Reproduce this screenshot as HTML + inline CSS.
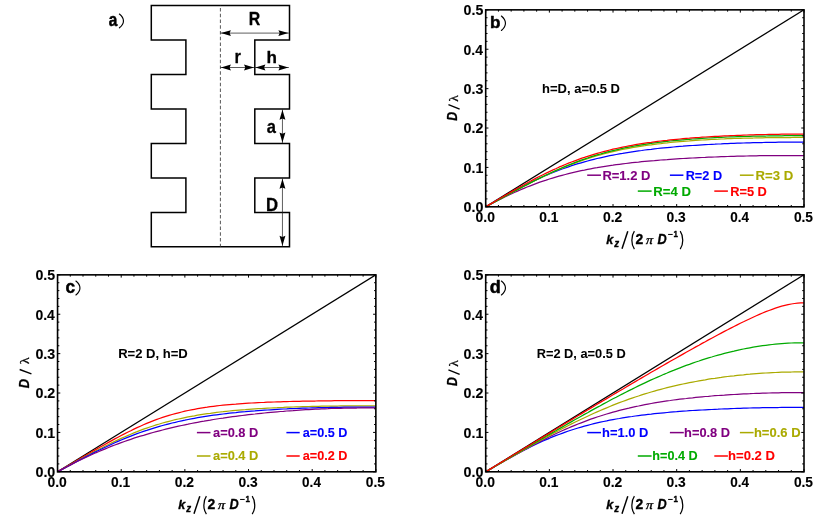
<!DOCTYPE html>
<html><head><meta charset="utf-8"><title>Figure</title>
<style>
html,body{margin:0;padding:0;background:#fff;}
body{width:830px;height:517px;overflow:hidden;font-family:"Liberation Sans",sans-serif;}
svg{display:block;will-change:transform;}
</style></head>
<body>
<svg width="830" height="517" viewBox="0 0 830 517">
<rect x="0" y="0" width="830" height="517" fill="#fff"/>
<path d="M151.3,5.4 H289.5 V39.9 H254.8 V74.4 H289.5 V108.9 H254.8 V143.4 H289.5 V177.9 H254.8 V212.4 H289.5 V246.85 H151.3 V212.4 H185.9 V177.9 H151.3 V143.4 H185.9 V108.9 H151.3 V74.4 H185.9 V39.9 H151.3 V5.4 Z" fill="none" stroke="#000" stroke-width="1.5" stroke-linejoin="miter"/>
<path d="M220.4,5.4 V246.85" stroke="#3a3a3a" stroke-width="0.85" stroke-dasharray="3.5 2.25" stroke-dashoffset="3.15" fill="none"/>
<path d="M220.4,33.1 L288.9,33.1" stroke="#1a1a1a" stroke-width="0.7" fill="none"/><path d="M288.40,33.10 L278.40,36.05 L279.70,33.10 L278.40,30.15 Z" fill="#000"/><path d="M220.90,33.10 L230.90,30.15 L229.60,33.10 L230.90,36.05 Z" fill="#000"/>
<path d="M220.4,67.5 L254.5,67.5" stroke="#1a1a1a" stroke-width="0.7" fill="none"/><path d="M254.00,67.50 L244.00,70.45 L245.30,67.50 L244.00,64.55 Z" fill="#000"/><path d="M220.90,67.50 L230.90,64.55 L229.60,67.50 L230.90,70.45 Z" fill="#000"/>
<path d="M254.9,67.5 L288.9,67.5" stroke="#1a1a1a" stroke-width="0.7" fill="none"/><path d="M288.40,67.50 L278.40,70.45 L279.70,67.50 L278.40,64.55 Z" fill="#000"/><path d="M255.40,67.50 L265.40,64.55 L264.10,67.50 L265.40,70.45 Z" fill="#000"/>
<path d="M282.45,109.3 L282.45,143.0" stroke="#1a1a1a" stroke-width="0.7" fill="none"/><path d="M282.45,142.50 L279.50,132.50 L282.45,133.80 L285.40,132.50 Z" fill="#000"/><path d="M282.45,109.80 L285.40,119.80 L282.45,118.50 L279.50,119.80 Z" fill="#000"/>
<path d="M282.45,178.3 L282.45,246.3" stroke="#1a1a1a" stroke-width="0.7" fill="none"/><path d="M282.45,245.80 L279.50,235.80 L282.45,237.10 L285.40,235.80 Z" fill="#000"/><path d="M282.45,178.80 L285.40,188.80 L282.45,187.50 L279.50,188.80 Z" fill="#000"/>
<text transform="translate(248.84,25.45) scale(0.872,1)" font-family='"Liberation Sans", sans-serif' font-size="18.24" font-weight="bold" font-style="normal" fill="#000" stroke="#000" stroke-width="0.3" stroke-linejoin="round">R</text>
<text transform="translate(234.62,63.35) scale(0.918,1)" font-family='"Liberation Sans", sans-serif' font-size="17.92" font-weight="bold" font-style="normal" fill="#000" stroke="#000" stroke-width="0.3" stroke-linejoin="round">r</text>
<text transform="translate(266.48,63.35) scale(1.018,1)" font-family='"Liberation Sans", sans-serif' font-size="16.77" font-weight="bold" font-style="normal" fill="#000" stroke="#000" stroke-width="0.3" stroke-linejoin="round">h</text>
<text transform="translate(266.72,132.63) scale(0.923,1)" font-family='"Liberation Sans", sans-serif' font-size="17.89" font-weight="bold" font-style="normal" fill="#000" stroke="#000" stroke-width="0.3" stroke-linejoin="round">a</text>
<text transform="translate(265.88,210.50) scale(0.916,1)" font-family='"Liberation Sans", sans-serif' font-size="18.24" font-weight="bold" font-style="normal" fill="#000" stroke="#000" stroke-width="0.3" stroke-linejoin="round">D</text>
<text transform="translate(108.65,25.53) scale(0.878,1)" font-family='"Liberation Sans", sans-serif' font-size="17.52" font-weight="bold" font-style="normal" fill="#000" stroke="#000" stroke-width="0.5" stroke-linejoin="round">a</text>
<path d="M119.40,14.00 C124.80,18.34 124.80,23.46 119.40,27.80" stroke="#000" stroke-width="1.15" fill="none" stroke-linecap="round"/>
<clipPath id="clipb"><rect x="485.7" y="8.85" width="318.3" height="198.95"/></clipPath>
<g clip-path="url(#clipb)" fill="none" stroke-width="1.25" stroke-linejoin="round">
<path d="M485.7,206.79999999999998 L804.0,9.85" stroke="#000"/>
<path d="M485.7,206.8 L488.9,205.1 L492.1,203.5 L495.2,201.8 L498.4,200.2 L501.6,198.6 L504.8,197.0 L508.0,195.5 L511.2,194.0 L514.3,192.5 L517.5,191.1 L520.7,189.7 L523.9,188.4 L527.1,187.0 L530.3,185.8 L533.4,184.6 L536.6,183.4 L539.8,182.2 L543.0,181.1 L546.2,180.1 L549.4,179.0 L552.5,178.1 L555.7,177.1 L558.9,176.2 L562.1,175.3 L565.3,174.5 L568.5,173.7 L571.6,172.9 L574.8,172.1 L578.0,171.4 L581.2,170.7 L584.4,170.1 L587.6,169.4 L590.7,168.8 L593.9,168.2 L597.1,167.7 L600.3,167.1 L603.5,166.6 L606.7,166.1 L609.8,165.6 L613.0,165.2 L616.2,164.7 L619.4,164.3 L622.6,163.9 L625.8,163.5 L628.9,163.1 L632.1,162.7 L635.3,162.4 L638.5,162.1 L641.7,161.7 L644.9,161.4 L648.0,161.1 L651.2,160.8 L654.4,160.6 L657.6,160.3 L660.8,160.0 L663.9,159.8 L667.1,159.6 L670.3,159.3 L673.5,159.1 L676.7,158.9 L679.9,158.7 L683.0,158.5 L686.2,158.3 L689.4,158.1 L692.6,158.0 L695.8,157.8 L699.0,157.6 L702.1,157.5 L705.3,157.4 L708.5,157.2 L711.7,157.1 L714.9,157.0 L718.1,156.8 L721.2,156.7 L724.4,156.6 L727.6,156.5 L730.8,156.4 L734.0,156.3 L737.2,156.2 L740.3,156.1 L743.5,156.1 L746.7,156.0 L749.9,155.9 L753.1,155.9 L756.3,155.8 L759.4,155.7 L762.6,155.7 L765.8,155.6 L769.0,155.6 L772.2,155.6 L775.4,155.5 L778.5,155.5 L781.7,155.5 L784.9,155.5 L788.1,155.5 L791.3,155.5 L794.5,155.5 L797.6,155.5 L800.8,155.5 L804.0,155.5" stroke="#800080"/>
<path d="M485.7,206.8 L488.9,205.0 L492.1,203.2 L495.2,201.4 L498.4,199.6 L501.6,197.8 L504.8,196.0 L508.0,194.2 L511.2,192.5 L514.3,190.8 L517.5,189.1 L520.7,187.4 L523.9,185.8 L527.1,184.2 L530.3,182.6 L533.4,181.1 L536.6,179.6 L539.8,178.1 L543.0,176.7 L546.2,175.3 L549.4,174.0 L552.5,172.7 L555.7,171.4 L558.9,170.2 L562.1,169.0 L565.3,167.9 L568.5,166.8 L571.6,165.7 L574.8,164.7 L578.0,163.7 L581.2,162.8 L584.4,161.9 L587.6,161.0 L590.7,160.1 L593.9,159.3 L597.1,158.5 L600.3,157.8 L603.5,157.1 L606.7,156.4 L609.8,155.7 L613.0,155.1 L616.2,154.5 L619.4,153.9 L622.6,153.4 L625.8,152.8 L628.9,152.3 L632.1,151.8 L635.3,151.3 L638.5,150.9 L641.7,150.5 L644.9,150.0 L648.0,149.6 L651.2,149.3 L654.4,148.9 L657.6,148.5 L660.8,148.2 L663.9,147.9 L667.1,147.6 L670.3,147.3 L673.5,147.0 L676.7,146.7 L679.9,146.4 L683.0,146.2 L686.2,145.9 L689.4,145.7 L692.6,145.5 L695.8,145.3 L699.0,145.1 L702.1,144.9 L705.3,144.7 L708.5,144.5 L711.7,144.3 L714.9,144.2 L718.1,144.0 L721.2,143.9 L724.4,143.7 L727.6,143.6 L730.8,143.4 L734.0,143.3 L737.2,143.2 L740.3,143.1 L743.5,143.0 L746.7,142.9 L749.9,142.8 L753.1,142.7 L756.3,142.6 L759.4,142.5 L762.6,142.5 L765.8,142.4 L769.0,142.4 L772.2,142.3 L775.4,142.3 L778.5,142.2 L781.7,142.2 L784.9,142.1 L788.1,142.1 L791.3,142.1 L794.5,142.1 L797.6,142.1 L800.8,142.1 L804.0,142.1" stroke="#0000ff"/>
<path d="M485.7,206.8 L488.9,205.1 L492.1,203.3 L495.2,201.6 L498.4,199.9 L501.6,198.1 L504.8,196.4 L508.0,194.7 L511.2,193.0 L514.3,191.3 L517.5,189.6 L520.7,187.9 L523.9,186.2 L527.1,184.6 L530.3,183.0 L533.4,181.4 L536.6,179.8 L539.8,178.2 L543.0,176.7 L546.2,175.2 L549.4,173.7 L552.5,172.2 L555.7,170.8 L558.9,169.4 L562.1,168.1 L565.3,166.8 L568.5,165.5 L571.6,164.3 L574.8,163.1 L578.0,161.9 L581.2,160.8 L584.4,159.7 L587.6,158.7 L590.7,157.6 L593.9,156.7 L597.1,155.7 L600.3,154.8 L603.5,154.0 L606.7,153.2 L609.8,152.4 L613.0,151.6 L616.2,150.9 L619.4,150.2 L622.6,149.5 L625.8,148.9 L628.9,148.3 L632.1,147.7 L635.3,147.2 L638.5,146.6 L641.7,146.1 L644.9,145.7 L648.0,145.2 L651.2,144.8 L654.4,144.3 L657.6,143.9 L660.8,143.6 L663.9,143.2 L667.1,142.9 L670.3,142.5 L673.5,142.2 L676.7,141.9 L679.9,141.6 L683.0,141.4 L686.2,141.1 L689.4,140.9 L692.6,140.6 L695.8,140.4 L699.0,140.2 L702.1,140.0 L705.3,139.8 L708.5,139.6 L711.7,139.5 L714.9,139.3 L718.1,139.2 L721.2,139.0 L724.4,138.9 L727.6,138.7 L730.8,138.6 L734.0,138.5 L737.2,138.4 L740.3,138.3 L743.5,138.2 L746.7,138.1 L749.9,138.0 L753.1,138.0 L756.3,137.9 L759.4,137.8 L762.6,137.8 L765.8,137.7 L769.0,137.6 L772.2,137.6 L775.4,137.6 L778.5,137.5 L781.7,137.5 L784.9,137.5 L788.1,137.5 L791.3,137.5 L794.5,137.4 L797.6,137.4 L800.8,137.4 L804.0,137.5" stroke="#aaaa00"/>
<path d="M485.7,206.8 L488.9,205.1 L492.1,203.3 L495.2,201.6 L498.4,199.9 L501.6,198.1 L504.8,196.4 L508.0,194.7 L511.2,193.0 L514.3,191.3 L517.5,189.6 L520.7,187.9 L523.9,186.2 L527.1,184.6 L530.3,182.9 L533.4,181.3 L536.6,179.7 L539.8,178.1 L543.0,176.5 L546.2,175.0 L549.4,173.5 L552.5,172.0 L555.7,170.6 L558.9,169.2 L562.1,167.8 L565.3,166.4 L568.5,165.1 L571.6,163.8 L574.8,162.6 L578.0,161.4 L581.2,160.2 L584.4,159.1 L587.6,158.0 L590.7,156.9 L593.9,155.9 L597.1,154.9 L600.3,154.0 L603.5,153.1 L606.7,152.2 L609.8,151.4 L613.0,150.6 L616.2,149.8 L619.4,149.1 L622.6,148.4 L625.8,147.7 L628.9,147.1 L632.1,146.5 L635.3,145.9 L638.5,145.4 L641.7,144.8 L644.9,144.3 L648.0,143.8 L651.2,143.4 L654.4,142.9 L657.6,142.5 L660.8,142.1 L663.9,141.7 L667.1,141.4 L670.3,141.0 L673.5,140.7 L676.7,140.4 L679.9,140.1 L683.0,139.8 L686.2,139.5 L689.4,139.3 L692.6,139.0 L695.8,138.8 L699.0,138.6 L702.1,138.4 L705.3,138.2 L708.5,138.0 L711.7,137.8 L714.9,137.6 L718.1,137.5 L721.2,137.3 L724.4,137.2 L727.6,137.0 L730.8,136.9 L734.0,136.8 L737.2,136.7 L740.3,136.6 L743.5,136.5 L746.7,136.4 L749.9,136.3 L753.1,136.2 L756.3,136.1 L759.4,136.1 L762.6,136.0 L765.8,136.0 L769.0,135.9 L772.2,135.9 L775.4,135.8 L778.5,135.8 L781.7,135.8 L784.9,135.7 L788.1,135.7 L791.3,135.7 L794.5,135.7 L797.6,135.7 L800.8,135.7 L804.0,135.7" stroke="#00aa00"/>
<path d="M485.7,206.8 L488.9,204.9 L492.1,203.1 L495.2,201.2 L498.4,199.3 L501.6,197.5 L504.8,195.6 L508.0,193.8 L511.2,191.9 L514.3,190.1 L517.5,188.3 L520.7,186.5 L523.9,184.8 L527.1,183.0 L530.3,181.3 L533.4,179.6 L536.6,177.9 L539.8,176.3 L543.0,174.7 L546.2,173.1 L549.4,171.6 L552.5,170.1 L555.7,168.7 L558.9,167.2 L562.1,165.9 L565.3,164.5 L568.5,163.2 L571.6,162.0 L574.8,160.8 L578.0,159.6 L581.2,158.4 L584.4,157.4 L587.6,156.3 L590.7,155.3 L593.9,154.3 L597.1,153.4 L600.3,152.5 L603.5,151.6 L606.7,150.8 L609.8,150.0 L613.0,149.2 L616.2,148.5 L619.4,147.8 L622.6,147.1 L625.8,146.5 L628.9,145.9 L632.1,145.3 L635.3,144.7 L638.5,144.2 L641.7,143.7 L644.9,143.2 L648.0,142.7 L651.2,142.3 L654.4,141.8 L657.6,141.4 L660.8,141.0 L663.9,140.6 L667.1,140.3 L670.3,139.9 L673.5,139.6 L676.7,139.3 L679.9,139.0 L683.0,138.7 L686.2,138.4 L689.4,138.2 L692.6,137.9 L695.8,137.7 L699.0,137.5 L702.1,137.2 L705.3,137.0 L708.5,136.8 L711.7,136.6 L714.9,136.4 L718.1,136.3 L721.2,136.1 L724.4,135.9 L727.6,135.8 L730.8,135.6 L734.0,135.5 L737.2,135.4 L740.3,135.3 L743.5,135.1 L746.7,135.0 L749.9,134.9 L753.1,134.8 L756.3,134.7 L759.4,134.7 L762.6,134.6 L765.8,134.5 L769.0,134.4 L772.2,134.4 L775.4,134.3 L778.5,134.3 L781.7,134.2 L784.9,134.2 L788.1,134.2 L791.3,134.1 L794.5,134.1 L797.6,134.1 L800.8,134.1 L804.0,134.1" stroke="#ff0000"/>
</g>
<path d="M485.70,206.79999999999998 v-2.75 M485.70,9.85 v2.75 M485.7,206.80 h2.75 M804.0,206.80 h-2.75 M498.43,206.79999999999998 v-1.8 M498.43,9.85 v1.8 M485.7,198.92 h1.8 M804.0,198.92 h-1.8 M511.16,206.79999999999998 v-1.8 M511.16,9.85 v1.8 M485.7,191.04 h1.8 M804.0,191.04 h-1.8 M523.90,206.79999999999998 v-1.8 M523.90,9.85 v1.8 M485.7,183.17 h1.8 M804.0,183.17 h-1.8 M536.63,206.79999999999998 v-1.8 M536.63,9.85 v1.8 M485.7,175.29 h1.8 M804.0,175.29 h-1.8 M549.36,206.79999999999998 v-2.75 M549.36,9.85 v2.75 M485.7,167.41 h2.75 M804.0,167.41 h-2.75 M562.09,206.79999999999998 v-1.8 M562.09,9.85 v1.8 M485.7,159.53 h1.8 M804.0,159.53 h-1.8 M574.82,206.79999999999998 v-1.8 M574.82,9.85 v1.8 M485.7,151.65 h1.8 M804.0,151.65 h-1.8 M587.56,206.79999999999998 v-1.8 M587.56,9.85 v1.8 M485.7,143.78 h1.8 M804.0,143.78 h-1.8 M600.29,206.79999999999998 v-1.8 M600.29,9.85 v1.8 M485.7,135.90 h1.8 M804.0,135.90 h-1.8 M613.02,206.79999999999998 v-2.75 M613.02,9.85 v2.75 M485.7,128.02 h2.75 M804.0,128.02 h-2.75 M625.75,206.79999999999998 v-1.8 M625.75,9.85 v1.8 M485.7,120.14 h1.8 M804.0,120.14 h-1.8 M638.48,206.79999999999998 v-1.8 M638.48,9.85 v1.8 M485.7,112.26 h1.8 M804.0,112.26 h-1.8 M651.22,206.79999999999998 v-1.8 M651.22,9.85 v1.8 M485.7,104.39 h1.8 M804.0,104.39 h-1.8 M663.95,206.79999999999998 v-1.8 M663.95,9.85 v1.8 M485.7,96.51 h1.8 M804.0,96.51 h-1.8 M676.68,206.79999999999998 v-2.75 M676.68,9.85 v2.75 M485.7,88.63 h2.75 M804.0,88.63 h-2.75 M689.41,206.79999999999998 v-1.8 M689.41,9.85 v1.8 M485.7,80.75 h1.8 M804.0,80.75 h-1.8 M702.14,206.79999999999998 v-1.8 M702.14,9.85 v1.8 M485.7,72.87 h1.8 M804.0,72.87 h-1.8 M714.88,206.79999999999998 v-1.8 M714.88,9.85 v1.8 M485.7,65.00 h1.8 M804.0,65.00 h-1.8 M727.61,206.79999999999998 v-1.8 M727.61,9.85 v1.8 M485.7,57.12 h1.8 M804.0,57.12 h-1.8 M740.34,206.79999999999998 v-2.75 M740.34,9.85 v2.75 M485.7,49.24 h2.75 M804.0,49.24 h-2.75 M753.07,206.79999999999998 v-1.8 M753.07,9.85 v1.8 M485.7,41.36 h1.8 M804.0,41.36 h-1.8 M765.80,206.79999999999998 v-1.8 M765.80,9.85 v1.8 M485.7,33.48 h1.8 M804.0,33.48 h-1.8 M778.54,206.79999999999998 v-1.8 M778.54,9.85 v1.8 M485.7,25.61 h1.8 M804.0,25.61 h-1.8 M791.27,206.79999999999998 v-1.8 M791.27,9.85 v1.8 M485.7,17.73 h1.8 M804.0,17.73 h-1.8 M804.00,206.79999999999998 v-2.75 M804.00,9.85 v2.75 M485.7,9.85 h2.75 M804.0,9.85 h-2.75" stroke="#000" stroke-width="1" fill="none"/>
<rect x="485.7" y="9.85" width="318.3" height="196.95" fill="none" stroke="#000" stroke-width="1.6"/>
<text transform="translate(475.60,222.41) scale(0.979,1)" font-family='"Liberation Sans", sans-serif' font-size="14.19" font-weight="bold" font-style="normal" fill="#000" stroke="#000" stroke-width="0.12" stroke-linejoin="round">0.0</text>
<text transform="translate(463.58,212.11) scale(1.009,1)" font-family='"Liberation Sans", sans-serif' font-size="14.19" font-weight="bold" font-style="normal" fill="#000" stroke="#000" stroke-width="0.12" stroke-linejoin="round">0.0</text>
<text transform="translate(539.27,222.41) scale(0.969,1)" font-family='"Liberation Sans", sans-serif' font-size="14.19" font-weight="bold" font-style="normal" fill="#000" stroke="#000" stroke-width="0.12" stroke-linejoin="round">0.1</text>
<text transform="translate(463.59,172.72) scale(0.999,1)" font-family='"Liberation Sans", sans-serif' font-size="14.19" font-weight="bold" font-style="normal" fill="#000" stroke="#000" stroke-width="0.12" stroke-linejoin="round">0.1</text>
<text transform="translate(602.92,222.41) scale(0.978,1)" font-family='"Liberation Sans", sans-serif' font-size="14.19" font-weight="bold" font-style="normal" fill="#000" stroke="#000" stroke-width="0.12" stroke-linejoin="round">0.2</text>
<text transform="translate(463.58,133.33) scale(1.008,1)" font-family='"Liberation Sans", sans-serif' font-size="14.19" font-weight="bold" font-style="normal" fill="#000" stroke="#000" stroke-width="0.12" stroke-linejoin="round">0.2</text>
<text transform="translate(666.58,222.39) scale(0.977,1)" font-family='"Liberation Sans", sans-serif' font-size="14.17" font-weight="bold" font-style="normal" fill="#000" stroke="#000" stroke-width="0.12" stroke-linejoin="round">0.3</text>
<text transform="translate(463.59,93.92) scale(1.007,1)" font-family='"Liberation Sans", sans-serif' font-size="14.17" font-weight="bold" font-style="normal" fill="#000" stroke="#000" stroke-width="0.12" stroke-linejoin="round">0.3</text>
<text transform="translate(730.25,222.41) scale(0.953,1)" font-family='"Liberation Sans", sans-serif' font-size="14.19" font-weight="bold" font-style="normal" fill="#000" stroke="#000" stroke-width="0.12" stroke-linejoin="round">0.4</text>
<text transform="translate(463.60,54.55) scale(0.982,1)" font-family='"Liberation Sans", sans-serif' font-size="14.19" font-weight="bold" font-style="normal" fill="#000" stroke="#000" stroke-width="0.12" stroke-linejoin="round">0.4</text>
<text transform="translate(793.91,222.41) scale(0.969,1)" font-family='"Liberation Sans", sans-serif' font-size="14.19" font-weight="bold" font-style="normal" fill="#000" stroke="#000" stroke-width="0.12" stroke-linejoin="round">0.5</text>
<text transform="translate(463.59,15.16) scale(0.999,1)" font-family='"Liberation Sans", sans-serif' font-size="14.19" font-weight="bold" font-style="normal" fill="#000" stroke="#000" stroke-width="0.12" stroke-linejoin="round">0.5</text>
<text transform="translate(489.97,27.73) scale(1.003,1)" font-family='"Liberation Sans", sans-serif' font-size="17.02" font-weight="bold" font-style="normal" fill="#000" stroke="#000" stroke-width="0.5" stroke-linejoin="round">b</text>
<path d="M501.40,16.00 C506.80,20.57 506.80,25.93 501.40,30.50" stroke="#000" stroke-width="1.15" fill="none" stroke-linecap="round"/>
<text transform="translate(542.09,93.00) scale(1.047,1)" font-family='"Liberation Sans", sans-serif' font-size="12.40" font-weight="bold" font-style="normal" fill="#000" stroke="#000" stroke-width="0.05" stroke-linejoin="round">h=D, a=0.5 D</text>
<path d="M587.2,175.2 H601.0" stroke="#800080" stroke-width="1.5"/>
<text transform="translate(602.38,179.80) scale(0.949,1)" font-family='"Liberation Sans", sans-serif' font-size="13.70" font-weight="bold" font-style="normal" fill="#800080" stroke="#800080" stroke-width="0.1" stroke-linejoin="round">R=1.2 D</text>
<path d="M669.9,175.2 H683.4" stroke="#0000ff" stroke-width="1.5"/>
<text transform="translate(685.65,179.80) scale(0.930,1)" font-family='"Liberation Sans", sans-serif' font-size="13.70" font-weight="bold" font-style="normal" fill="#0000ff" stroke="#0000ff" stroke-width="0.1" stroke-linejoin="round">R=2 D</text>
<path d="M739.9,175.2 H753.6" stroke="#aaaa00" stroke-width="1.5"/>
<text transform="translate(755.52,179.80) scale(0.962,1)" font-family='"Liberation Sans", sans-serif' font-size="13.70" font-weight="bold" font-style="normal" fill="#aaaa00" stroke="#aaaa00" stroke-width="0.1" stroke-linejoin="round">R=3 D</text>
<path d="M637.8,191.1 H651.6" stroke="#00aa00" stroke-width="1.5"/>
<text transform="translate(653.32,195.70) scale(0.960,1)" font-family='"Liberation Sans", sans-serif' font-size="13.70" font-weight="bold" font-style="normal" fill="#00aa00" stroke="#00aa00" stroke-width="0.1" stroke-linejoin="round">R=4 D</text>
<path d="M714.3,191.1 H727.9" stroke="#ff0000" stroke-width="1.5"/>
<text transform="translate(730.14,195.70) scale(0.938,1)" font-family='"Liberation Sans", sans-serif' font-size="13.70" font-weight="bold" font-style="normal" fill="#ff0000" stroke="#ff0000" stroke-width="0.1" stroke-linejoin="round">R=5 D</text>
<g transform="translate(0.00,0.00)">
<text transform="translate(606.23,243.60) scale(0.938,1)" font-family='"Liberation Sans", sans-serif' font-size="13.39" font-weight="bold" font-style="italic" fill="#000" stroke="#000" stroke-width="0.35" stroke-linejoin="round">k</text>
<text transform="translate(614.18,246.50) scale(0.906,1)" font-family='"Liberation Sans", sans-serif' font-size="10.79" font-weight="bold" font-style="italic" fill="#000" stroke="#000" stroke-width="0.35" stroke-linejoin="round">z</text>
<text transform="translate(635.62,243.60) scale(0.972,1)" font-family='"Liberation Sans", sans-serif' font-size="14.32" font-weight="bold" font-style="normal" fill="#000" stroke="#000" stroke-width="0.35" stroke-linejoin="round">2</text>
<text transform="translate(657.48,243.75) scale(0.871,1)" font-family='"Liberation Sans", sans-serif' font-size="14.61" font-weight="bold" font-style="italic" fill="#000" stroke="#000" stroke-width="0.35" stroke-linejoin="round">D</text>
<text transform="translate(673.50,236.90) scale(0.882,1)" font-family='"Liberation Sans", sans-serif' font-size="9.01" font-weight="bold" font-style="normal" fill="#000" stroke="#000" stroke-width="0.35" stroke-linejoin="round">1</text>
<g transform="translate(645.3,243.7) skewX(-14) scale(1.08,1)"><text x="0" y="0" font-family='"Liberation Serif", serif' font-size="12.8" fill="#000" stroke="#000" stroke-width="0.4">π</text></g>
<path d="M622.0,248.7 L627.8,231.2" stroke="#000" stroke-width="1.45" fill="none"/>
<path d="M634.4,231.1 C631.0,236.0 631.0,244.3 634.4,249.1" stroke="#000" stroke-width="1.25" fill="none"/>
<path d="M680.2,231.1 C683.6,236.0 683.6,244.3 680.2,249.1" stroke="#000" stroke-width="1.25" fill="none"/>
<path d="M668.1,234.45 H672.7" stroke="#000" stroke-width="1.0" fill="none"/>
</g>
<g transform="rotate(-90)">
<text transform="translate(-120.68,457.20) scale(0.872,1)" font-family='"Liberation Sans", sans-serif' font-size="14.10" font-weight="bold" font-style="italic" fill="#000" stroke="#000" stroke-width="0.3" stroke-linejoin="round">D</text>
<text transform="translate(-101.66,457.60) scale(1.025,1)" font-family='"Liberation Serif", serif' font-size="13.35" font-weight="normal" font-style="normal" fill="#000" stroke="#000" stroke-width="0.25" stroke-linejoin="round">λ</text>
</g>
<path d="M459.65,109.20 L448.45,104.60" stroke="#000" stroke-width="1.35" fill="none"/>
<clipPath id="clipc"><rect x="57.55" y="273.85" width="318.3" height="198.95"/></clipPath>
<g clip-path="url(#clipc)" fill="none" stroke-width="1.25" stroke-linejoin="round">
<path d="M57.55,471.8 L375.85,274.85" stroke="#000"/>
<path d="M57.5,471.8 L60.7,469.9 L63.9,468.1 L67.1,466.2 L70.3,464.3 L73.5,462.5 L76.6,460.6 L79.8,458.8 L83.0,456.9 L86.2,455.1 L89.4,453.2 L92.6,451.4 L95.7,449.6 L98.9,447.8 L102.1,446.0 L105.3,444.2 L108.5,442.4 L111.7,440.6 L114.8,438.9 L118.0,437.2 L121.2,435.5 L124.4,433.9 L127.6,432.2 L130.8,430.7 L133.9,429.1 L137.1,427.6 L140.3,426.2 L143.5,424.8 L146.7,423.4 L149.9,422.1 L153.0,420.9 L156.2,419.7 L159.4,418.5 L162.6,417.4 L165.8,416.4 L169.0,415.4 L172.1,414.5 L175.3,413.6 L178.5,412.8 L181.7,412.0 L184.9,411.2 L188.1,410.5 L191.2,409.9 L194.4,409.3 L197.6,408.7 L200.8,408.1 L204.0,407.6 L207.2,407.2 L210.3,406.7 L213.5,406.3 L216.7,405.9 L219.9,405.5 L223.1,405.2 L226.2,404.9 L229.4,404.6 L232.6,404.3 L235.8,404.1 L239.0,403.8 L242.2,403.6 L245.3,403.4 L248.5,403.2 L251.7,403.0 L254.9,402.8 L258.1,402.6 L261.3,402.5 L264.4,402.4 L267.6,402.2 L270.8,402.1 L274.0,402.0 L277.2,401.9 L280.4,401.8 L283.5,401.7 L286.7,401.6 L289.9,401.5 L293.1,401.4 L296.3,401.3 L299.5,401.3 L302.6,401.2 L305.8,401.1 L309.0,401.1 L312.2,401.0 L315.4,401.0 L318.6,400.9 L321.7,400.9 L324.9,400.8 L328.1,400.8 L331.3,400.8 L334.5,400.7 L337.7,400.7 L340.8,400.7 L344.0,400.6 L347.2,400.6 L350.4,400.6 L353.6,400.6 L356.8,400.6 L359.9,400.6 L363.1,400.6 L366.3,400.5 L369.5,400.5 L372.7,400.5 L375.9,400.5" stroke="#ff0000"/>
<path d="M57.5,471.8 L60.7,470.0 L63.9,468.3 L67.1,466.5 L70.3,464.7 L73.5,463.0 L76.6,461.2 L79.8,459.5 L83.0,457.8 L86.2,456.0 L89.4,454.3 L92.6,452.6 L95.7,451.0 L98.9,449.3 L102.1,447.7 L105.3,446.0 L108.5,444.5 L111.7,442.9 L114.8,441.4 L118.0,439.9 L121.2,438.4 L124.4,437.0 L127.6,435.6 L130.8,434.2 L133.9,432.9 L137.1,431.7 L140.3,430.4 L143.5,429.2 L146.7,428.1 L149.9,427.0 L153.0,426.0 L156.2,424.9 L159.4,424.0 L162.6,423.0 L165.8,422.1 L169.0,421.3 L172.1,420.5 L175.3,419.7 L178.5,419.0 L181.7,418.3 L184.9,417.6 L188.1,416.9 L191.2,416.3 L194.4,415.8 L197.6,415.2 L200.8,414.7 L204.0,414.2 L207.2,413.7 L210.3,413.3 L213.5,412.8 L216.7,412.4 L219.9,412.0 L223.1,411.7 L226.2,411.3 L229.4,411.0 L232.6,410.7 L235.8,410.4 L239.0,410.1 L242.2,409.8 L245.3,409.6 L248.5,409.3 L251.7,409.1 L254.9,408.9 L258.1,408.7 L261.3,408.5 L264.4,408.3 L267.6,408.1 L270.8,408.0 L274.0,407.8 L277.2,407.7 L280.4,407.5 L283.5,407.4 L286.7,407.2 L289.9,407.1 L293.1,407.0 L296.3,406.9 L299.5,406.8 L302.6,406.7 L305.8,406.6 L309.0,406.5 L312.2,406.4 L315.4,406.4 L318.6,406.3 L321.7,406.2 L324.9,406.2 L328.1,406.1 L331.3,406.1 L334.5,406.0 L337.7,406.0 L340.8,405.9 L344.0,405.9 L347.2,405.9 L350.4,405.8 L353.6,405.8 L356.8,405.8 L359.9,405.8 L363.1,405.8 L366.3,405.8 L369.5,405.8 L372.7,405.8 L375.9,405.8" stroke="#aaaa00"/>
<path d="M57.5,471.8 L60.7,470.1 L63.9,468.4 L67.1,466.7 L70.3,465.0 L73.5,463.3 L76.6,461.6 L79.8,459.9 L83.0,458.3 L86.2,456.6 L89.4,455.0 L92.6,453.4 L95.7,451.8 L98.9,450.2 L102.1,448.7 L105.3,447.2 L108.5,445.7 L111.7,444.2 L114.8,442.8 L118.0,441.4 L121.2,440.0 L124.4,438.7 L127.6,437.4 L130.8,436.1 L133.9,434.9 L137.1,433.7 L140.3,432.5 L143.5,431.4 L146.7,430.4 L149.9,429.3 L153.0,428.3 L156.2,427.3 L159.4,426.4 L162.6,425.5 L165.8,424.7 L169.0,423.8 L172.1,423.0 L175.3,422.3 L178.5,421.5 L181.7,420.8 L184.9,420.2 L188.1,419.5 L191.2,418.9 L194.4,418.3 L197.6,417.7 L200.8,417.2 L204.0,416.7 L207.2,416.2 L210.3,415.7 L213.5,415.2 L216.7,414.8 L219.9,414.4 L223.1,414.0 L226.2,413.6 L229.4,413.2 L232.6,412.9 L235.8,412.6 L239.0,412.2 L242.2,411.9 L245.3,411.7 L248.5,411.4 L251.7,411.1 L254.9,410.9 L258.1,410.6 L261.3,410.4 L264.4,410.2 L267.6,410.0 L270.8,409.8 L274.0,409.6 L277.2,409.4 L280.4,409.2 L283.5,409.0 L286.7,408.9 L289.9,408.7 L293.1,408.6 L296.3,408.5 L299.5,408.3 L302.6,408.2 L305.8,408.1 L309.0,408.0 L312.2,407.9 L315.4,407.8 L318.6,407.7 L321.7,407.6 L324.9,407.6 L328.1,407.5 L331.3,407.4 L334.5,407.4 L337.7,407.3 L340.8,407.3 L344.0,407.2 L347.2,407.2 L350.4,407.1 L353.6,407.1 L356.8,407.1 L359.9,407.1 L363.1,407.1 L366.3,407.1 L369.5,407.1 L372.7,407.1 L375.9,407.1" stroke="#0000ff"/>
<path d="M57.5,471.8 L60.7,470.1 L63.9,468.4 L67.1,466.7 L70.3,465.1 L73.5,463.4 L76.6,461.8 L79.8,460.3 L83.0,458.7 L86.2,457.2 L89.4,455.7 L92.6,454.3 L95.7,452.8 L98.9,451.5 L102.1,450.1 L105.3,448.8 L108.5,447.5 L111.7,446.2 L114.8,445.0 L118.0,443.8 L121.2,442.6 L124.4,441.5 L127.6,440.4 L130.8,439.3 L133.9,438.2 L137.1,437.2 L140.3,436.2 L143.5,435.3 L146.7,434.3 L149.9,433.4 L153.0,432.5 L156.2,431.6 L159.4,430.8 L162.6,430.0 L165.8,429.2 L169.0,428.4 L172.1,427.6 L175.3,426.9 L178.5,426.2 L181.7,425.5 L184.9,424.8 L188.1,424.2 L191.2,423.5 L194.4,422.9 L197.6,422.3 L200.8,421.7 L204.0,421.2 L207.2,420.6 L210.3,420.1 L213.5,419.5 L216.7,419.0 L219.9,418.5 L223.1,418.1 L226.2,417.6 L229.4,417.1 L232.6,416.7 L235.8,416.3 L239.0,415.9 L242.2,415.5 L245.3,415.1 L248.5,414.7 L251.7,414.3 L254.9,414.0 L258.1,413.6 L261.3,413.3 L264.4,413.0 L267.6,412.7 L270.8,412.4 L274.0,412.1 L277.2,411.8 L280.4,411.5 L283.5,411.3 L286.7,411.0 L289.9,410.8 L293.1,410.6 L296.3,410.3 L299.5,410.1 L302.6,409.9 L305.8,409.7 L309.0,409.6 L312.2,409.4 L315.4,409.2 L318.6,409.1 L321.7,408.9 L324.9,408.8 L328.1,408.7 L331.3,408.5 L334.5,408.4 L337.7,408.3 L340.8,408.3 L344.0,408.2 L347.2,408.1 L350.4,408.0 L353.6,408.0 L356.8,408.0 L359.9,407.9 L363.1,407.9 L366.3,407.9 L369.5,407.9 L372.7,407.9 L375.9,407.9" stroke="#800080"/>
</g>
<path d="M57.55,471.8 v-2.75 M57.55,274.85 v2.75 M57.55,471.80 h2.75 M375.85,471.80 h-2.75 M70.28,471.8 v-1.8 M70.28,274.85 v1.8 M57.55,463.92 h1.8 M375.85,463.92 h-1.8 M83.01,471.8 v-1.8 M83.01,274.85 v1.8 M57.55,456.04 h1.8 M375.85,456.04 h-1.8 M95.75,471.8 v-1.8 M95.75,274.85 v1.8 M57.55,448.17 h1.8 M375.85,448.17 h-1.8 M108.48,471.8 v-1.8 M108.48,274.85 v1.8 M57.55,440.29 h1.8 M375.85,440.29 h-1.8 M121.21,471.8 v-2.75 M121.21,274.85 v2.75 M57.55,432.41 h2.75 M375.85,432.41 h-2.75 M133.94,471.8 v-1.8 M133.94,274.85 v1.8 M57.55,424.53 h1.8 M375.85,424.53 h-1.8 M146.67,471.8 v-1.8 M146.67,274.85 v1.8 M57.55,416.65 h1.8 M375.85,416.65 h-1.8 M159.41,471.8 v-1.8 M159.41,274.85 v1.8 M57.55,408.78 h1.8 M375.85,408.78 h-1.8 M172.14,471.8 v-1.8 M172.14,274.85 v1.8 M57.55,400.90 h1.8 M375.85,400.90 h-1.8 M184.87,471.8 v-2.75 M184.87,274.85 v2.75 M57.55,393.02 h2.75 M375.85,393.02 h-2.75 M197.60,471.8 v-1.8 M197.60,274.85 v1.8 M57.55,385.14 h1.8 M375.85,385.14 h-1.8 M210.33,471.8 v-1.8 M210.33,274.85 v1.8 M57.55,377.26 h1.8 M375.85,377.26 h-1.8 M223.07,471.8 v-1.8 M223.07,274.85 v1.8 M57.55,369.39 h1.8 M375.85,369.39 h-1.8 M235.80,471.8 v-1.8 M235.80,274.85 v1.8 M57.55,361.51 h1.8 M375.85,361.51 h-1.8 M248.53,471.8 v-2.75 M248.53,274.85 v2.75 M57.55,353.63 h2.75 M375.85,353.63 h-2.75 M261.26,471.8 v-1.8 M261.26,274.85 v1.8 M57.55,345.75 h1.8 M375.85,345.75 h-1.8 M273.99,471.8 v-1.8 M273.99,274.85 v1.8 M57.55,337.87 h1.8 M375.85,337.87 h-1.8 M286.73,471.8 v-1.8 M286.73,274.85 v1.8 M57.55,330.00 h1.8 M375.85,330.00 h-1.8 M299.46,471.8 v-1.8 M299.46,274.85 v1.8 M57.55,322.12 h1.8 M375.85,322.12 h-1.8 M312.19,471.8 v-2.75 M312.19,274.85 v2.75 M57.55,314.24 h2.75 M375.85,314.24 h-2.75 M324.92,471.8 v-1.8 M324.92,274.85 v1.8 M57.55,306.36 h1.8 M375.85,306.36 h-1.8 M337.65,471.8 v-1.8 M337.65,274.85 v1.8 M57.55,298.48 h1.8 M375.85,298.48 h-1.8 M350.39,471.8 v-1.8 M350.39,274.85 v1.8 M57.55,290.61 h1.8 M375.85,290.61 h-1.8 M363.12,471.8 v-1.8 M363.12,274.85 v1.8 M57.55,282.73 h1.8 M375.85,282.73 h-1.8 M375.85,471.8 v-2.75 M375.85,274.85 v2.75 M57.55,274.85 h2.75 M375.85,274.85 h-2.75" stroke="#000" stroke-width="1" fill="none"/>
<rect x="57.55" y="274.85" width="318.3" height="196.95" fill="none" stroke="#000" stroke-width="1.6"/>
<text transform="translate(47.45,487.41) scale(0.979,1)" font-family='"Liberation Sans", sans-serif' font-size="14.19" font-weight="bold" font-style="normal" fill="#000" stroke="#000" stroke-width="0.12" stroke-linejoin="round">0.0</text>
<text transform="translate(35.43,477.11) scale(1.009,1)" font-family='"Liberation Sans", sans-serif' font-size="14.19" font-weight="bold" font-style="normal" fill="#000" stroke="#000" stroke-width="0.12" stroke-linejoin="round">0.0</text>
<text transform="translate(111.12,487.41) scale(0.969,1)" font-family='"Liberation Sans", sans-serif' font-size="14.19" font-weight="bold" font-style="normal" fill="#000" stroke="#000" stroke-width="0.12" stroke-linejoin="round">0.1</text>
<text transform="translate(35.44,437.72) scale(0.999,1)" font-family='"Liberation Sans", sans-serif' font-size="14.19" font-weight="bold" font-style="normal" fill="#000" stroke="#000" stroke-width="0.12" stroke-linejoin="round">0.1</text>
<text transform="translate(174.77,487.41) scale(0.978,1)" font-family='"Liberation Sans", sans-serif' font-size="14.19" font-weight="bold" font-style="normal" fill="#000" stroke="#000" stroke-width="0.12" stroke-linejoin="round">0.2</text>
<text transform="translate(35.43,398.33) scale(1.008,1)" font-family='"Liberation Sans", sans-serif' font-size="14.19" font-weight="bold" font-style="normal" fill="#000" stroke="#000" stroke-width="0.12" stroke-linejoin="round">0.2</text>
<text transform="translate(238.43,487.39) scale(0.977,1)" font-family='"Liberation Sans", sans-serif' font-size="14.17" font-weight="bold" font-style="normal" fill="#000" stroke="#000" stroke-width="0.12" stroke-linejoin="round">0.3</text>
<text transform="translate(35.44,358.92) scale(1.007,1)" font-family='"Liberation Sans", sans-serif' font-size="14.17" font-weight="bold" font-style="normal" fill="#000" stroke="#000" stroke-width="0.12" stroke-linejoin="round">0.3</text>
<text transform="translate(302.10,487.41) scale(0.953,1)" font-family='"Liberation Sans", sans-serif' font-size="14.19" font-weight="bold" font-style="normal" fill="#000" stroke="#000" stroke-width="0.12" stroke-linejoin="round">0.4</text>
<text transform="translate(35.45,319.55) scale(0.982,1)" font-family='"Liberation Sans", sans-serif' font-size="14.19" font-weight="bold" font-style="normal" fill="#000" stroke="#000" stroke-width="0.12" stroke-linejoin="round">0.4</text>
<text transform="translate(365.76,487.41) scale(0.969,1)" font-family='"Liberation Sans", sans-serif' font-size="14.19" font-weight="bold" font-style="normal" fill="#000" stroke="#000" stroke-width="0.12" stroke-linejoin="round">0.5</text>
<text transform="translate(35.44,280.16) scale(0.999,1)" font-family='"Liberation Sans", sans-serif' font-size="14.19" font-weight="bold" font-style="normal" fill="#000" stroke="#000" stroke-width="0.12" stroke-linejoin="round">0.5</text>
<text transform="translate(65.43,292.73) scale(0.983,1)" font-family='"Liberation Sans", sans-serif' font-size="17.52" font-weight="bold" font-style="normal" fill="#000" stroke="#000" stroke-width="0.5" stroke-linejoin="round">c</text>
<path d="M75.90,281.00 C81.30,285.41 81.30,290.59 75.90,295.00" stroke="#000" stroke-width="1.15" fill="none" stroke-linecap="round"/>
<text transform="translate(118.13,357.95) scale(1.054,1)" font-family='"Liberation Sans", sans-serif' font-size="12.40" font-weight="bold" font-style="normal" fill="#000" stroke="#000" stroke-width="0.05" stroke-linejoin="round">R=2 D, h=D</text>
<path d="M196.9,432.6 H210.5" stroke="#800080" stroke-width="1.5"/>
<text transform="translate(213.02,436.90) scale(0.937,1)" font-family='"Liberation Sans", sans-serif' font-size="13.70" font-weight="bold" font-style="normal" fill="#800080" stroke="#800080" stroke-width="0.1" stroke-linejoin="round">a=0.8 D</text>
<path d="M286.4,432.6 H299.7" stroke="#0000ff" stroke-width="1.5"/>
<text transform="translate(302.73,436.90) scale(0.924,1)" font-family='"Liberation Sans", sans-serif' font-size="13.70" font-weight="bold" font-style="normal" fill="#0000ff" stroke="#0000ff" stroke-width="0.1" stroke-linejoin="round">a=0.5 D</text>
<path d="M196.9,456.0 H210.5" stroke="#aaaa00" stroke-width="1.5"/>
<text transform="translate(213.02,460.30) scale(0.937,1)" font-family='"Liberation Sans", sans-serif' font-size="13.70" font-weight="bold" font-style="normal" fill="#aaaa00" stroke="#aaaa00" stroke-width="0.1" stroke-linejoin="round">a=0.4 D</text>
<path d="M286.4,456.0 H299.7" stroke="#ff0000" stroke-width="1.5"/>
<text transform="translate(302.73,460.30) scale(0.924,1)" font-family='"Liberation Sans", sans-serif' font-size="13.70" font-weight="bold" font-style="normal" fill="#ff0000" stroke="#ff0000" stroke-width="0.1" stroke-linejoin="round">a=0.2 D</text>
<g transform="translate(-428.00,265.00)">
<text transform="translate(606.23,243.60) scale(0.938,1)" font-family='"Liberation Sans", sans-serif' font-size="13.39" font-weight="bold" font-style="italic" fill="#000" stroke="#000" stroke-width="0.35" stroke-linejoin="round">k</text>
<text transform="translate(614.18,246.50) scale(0.906,1)" font-family='"Liberation Sans", sans-serif' font-size="10.79" font-weight="bold" font-style="italic" fill="#000" stroke="#000" stroke-width="0.35" stroke-linejoin="round">z</text>
<text transform="translate(635.62,243.60) scale(0.972,1)" font-family='"Liberation Sans", sans-serif' font-size="14.32" font-weight="bold" font-style="normal" fill="#000" stroke="#000" stroke-width="0.35" stroke-linejoin="round">2</text>
<text transform="translate(657.48,243.75) scale(0.871,1)" font-family='"Liberation Sans", sans-serif' font-size="14.61" font-weight="bold" font-style="italic" fill="#000" stroke="#000" stroke-width="0.35" stroke-linejoin="round">D</text>
<text transform="translate(673.50,236.90) scale(0.882,1)" font-family='"Liberation Sans", sans-serif' font-size="9.01" font-weight="bold" font-style="normal" fill="#000" stroke="#000" stroke-width="0.35" stroke-linejoin="round">1</text>
<g transform="translate(645.3,243.7) skewX(-14) scale(1.08,1)"><text x="0" y="0" font-family='"Liberation Serif", serif' font-size="12.8" fill="#000" stroke="#000" stroke-width="0.4">π</text></g>
<path d="M622.0,248.7 L627.8,231.2" stroke="#000" stroke-width="1.45" fill="none"/>
<path d="M634.4,231.1 C631.0,236.0 631.0,244.3 634.4,249.1" stroke="#000" stroke-width="1.25" fill="none"/>
<path d="M680.2,231.1 C683.6,236.0 683.6,244.3 680.2,249.1" stroke="#000" stroke-width="1.25" fill="none"/>
<path d="M668.1,234.45 H672.7" stroke="#000" stroke-width="1.0" fill="none"/>
</g>
<g transform="rotate(-90)">
<text transform="translate(-388.23,28.80) scale(0.903,1)" font-family='"Liberation Sans", sans-serif' font-size="14.24" font-weight="bold" font-style="italic" fill="#000" stroke="#000" stroke-width="0.3" stroke-linejoin="round">D</text>
<text transform="translate(-364.18,29.00) scale(1.091,1)" font-family='"Liberation Serif", serif' font-size="13.35" font-weight="normal" font-style="normal" fill="#000" stroke="#000" stroke-width="0.25" stroke-linejoin="round">λ</text>
</g>
<path d="M31.45,373.80 L19.65,369.50" stroke="#000" stroke-width="1.35" fill="none"/>
<clipPath id="clipd"><rect x="485.7" y="273.85" width="318.3" height="198.95"/></clipPath>
<g clip-path="url(#clipd)" fill="none" stroke-width="1.25" stroke-linejoin="round">
<path d="M485.7,471.8 L804.0,274.85" stroke="#000"/>
<path d="M485.7,471.8 L488.9,469.9 L492.1,468.1 L495.2,466.2 L498.4,464.4 L501.6,462.5 L504.8,460.7 L508.0,458.9 L511.2,457.1 L514.3,455.4 L517.5,453.6 L520.7,451.9 L523.9,450.3 L527.1,448.6 L530.3,447.0 L533.4,445.5 L536.6,443.9 L539.8,442.4 L543.0,441.0 L546.2,439.6 L549.4,438.3 L552.5,436.9 L555.7,435.7 L558.9,434.5 L562.1,433.3 L565.3,432.1 L568.5,431.0 L571.6,430.0 L574.8,429.0 L578.0,428.0 L581.2,427.1 L584.4,426.2 L587.6,425.3 L590.7,424.5 L593.9,423.7 L597.1,422.9 L600.3,422.2 L603.5,421.5 L606.7,420.9 L609.8,420.2 L613.0,419.6 L616.2,419.0 L619.4,418.5 L622.6,417.9 L625.8,417.4 L628.9,416.9 L632.1,416.5 L635.3,416.0 L638.5,415.6 L641.7,415.2 L644.9,414.8 L648.0,414.4 L651.2,414.1 L654.4,413.7 L657.6,413.4 L660.8,413.1 L663.9,412.8 L667.1,412.5 L670.3,412.2 L673.5,411.9 L676.7,411.7 L679.9,411.4 L683.0,411.2 L686.2,411.0 L689.4,410.7 L692.6,410.5 L695.8,410.3 L699.0,410.1 L702.1,410.0 L705.3,409.8 L708.5,409.6 L711.7,409.5 L714.9,409.3 L718.1,409.2 L721.2,409.0 L724.4,408.9 L727.6,408.8 L730.8,408.6 L734.0,408.5 L737.2,408.4 L740.3,408.3 L743.5,408.2 L746.7,408.1 L749.9,408.0 L753.1,407.9 L756.3,407.9 L759.4,407.8 L762.6,407.7 L765.8,407.7 L769.0,407.6 L772.2,407.5 L775.4,407.5 L778.5,407.5 L781.7,407.4 L784.9,407.4 L788.1,407.4 L791.3,407.3 L794.5,407.3 L797.6,407.3 L800.8,407.3 L804.0,407.3" stroke="#0000ff"/>
<path d="M485.7,471.8 L488.9,470.0 L492.1,468.1 L495.2,466.3 L498.4,464.5 L501.6,462.7 L504.8,460.8 L508.0,459.0 L511.2,457.2 L514.3,455.4 L517.5,453.7 L520.7,451.9 L523.9,450.1 L527.1,448.4 L530.3,446.7 L533.4,445.0 L536.6,443.3 L539.8,441.6 L543.0,440.0 L546.2,438.4 L549.4,436.8 L552.5,435.3 L555.7,433.8 L558.9,432.3 L562.1,430.8 L565.3,429.4 L568.5,428.0 L571.6,426.6 L574.8,425.3 L578.0,424.0 L581.2,422.8 L584.4,421.6 L587.6,420.4 L590.7,419.2 L593.9,418.1 L597.1,417.0 L600.3,416.0 L603.5,415.0 L606.7,414.0 L609.8,413.1 L613.0,412.2 L616.2,411.3 L619.4,410.4 L622.6,409.6 L625.8,408.8 L628.9,408.1 L632.1,407.3 L635.3,406.6 L638.5,406.0 L641.7,405.3 L644.9,404.7 L648.0,404.1 L651.2,403.5 L654.4,402.9 L657.6,402.4 L660.8,401.9 L663.9,401.4 L667.1,400.9 L670.3,400.5 L673.5,400.0 L676.7,399.6 L679.9,399.2 L683.0,398.8 L686.2,398.5 L689.4,398.1 L692.6,397.8 L695.8,397.4 L699.0,397.1 L702.1,396.8 L705.3,396.5 L708.5,396.3 L711.7,396.0 L714.9,395.7 L718.1,395.5 L721.2,395.3 L724.4,395.1 L727.6,394.8 L730.8,394.6 L734.0,394.5 L737.2,394.3 L740.3,394.1 L743.5,393.9 L746.7,393.8 L749.9,393.7 L753.1,393.5 L756.3,393.4 L759.4,393.3 L762.6,393.2 L765.8,393.1 L769.0,393.0 L772.2,392.9 L775.4,392.8 L778.5,392.8 L781.7,392.7 L784.9,392.7 L788.1,392.6 L791.3,392.6 L794.5,392.6 L797.6,392.6 L800.8,392.6 L804.0,392.6" stroke="#800080"/>
<path d="M485.7,471.8 L488.9,469.9 L492.1,468.1 L495.2,466.2 L498.4,464.4 L501.6,462.6 L504.8,460.7 L508.0,458.9 L511.2,457.0 L514.3,455.2 L517.5,453.4 L520.7,451.6 L523.9,449.7 L527.1,447.9 L530.3,446.1 L533.4,444.3 L536.6,442.6 L539.8,440.8 L543.0,439.0 L546.2,437.3 L549.4,435.6 L552.5,433.8 L555.7,432.1 L558.9,430.5 L562.1,428.8 L565.3,427.1 L568.5,425.5 L571.6,423.9 L574.8,422.3 L578.0,420.7 L581.2,419.2 L584.4,417.7 L587.6,416.2 L590.7,414.7 L593.9,413.3 L597.1,411.9 L600.3,410.5 L603.5,409.1 L606.7,407.8 L609.8,406.5 L613.0,405.2 L616.2,403.9 L619.4,402.7 L622.6,401.5 L625.8,400.3 L628.9,399.2 L632.1,398.1 L635.3,397.0 L638.5,396.0 L641.7,394.9 L644.9,393.9 L648.0,393.0 L651.2,392.0 L654.4,391.1 L657.6,390.2 L660.8,389.3 L663.9,388.5 L667.1,387.7 L670.3,386.9 L673.5,386.1 L676.7,385.4 L679.9,384.7 L683.0,384.0 L686.2,383.3 L689.4,382.7 L692.6,382.1 L695.8,381.5 L699.0,380.9 L702.1,380.3 L705.3,379.8 L708.5,379.2 L711.7,378.7 L714.9,378.3 L718.1,377.8 L721.2,377.4 L724.4,376.9 L727.6,376.5 L730.8,376.1 L734.0,375.8 L737.2,375.4 L740.3,375.1 L743.5,374.8 L746.7,374.4 L749.9,374.2 L753.1,373.9 L756.3,373.6 L759.4,373.4 L762.6,373.2 L765.8,373.0 L769.0,372.8 L772.2,372.6 L775.4,372.5 L778.5,372.3 L781.7,372.2 L784.9,372.1 L788.1,372.0 L791.3,372.0 L794.5,371.9 L797.6,371.9 L800.8,371.9 L804.0,371.9" stroke="#aaaa00"/>
<path d="M485.7,471.8 L488.9,469.9 L492.1,468.0 L495.2,466.2 L498.4,464.3 L501.6,462.4 L504.8,460.5 L508.0,458.7 L511.2,456.8 L514.3,454.9 L517.5,453.0 L520.7,451.2 L523.9,449.3 L527.1,447.4 L530.3,445.6 L533.4,443.7 L536.6,441.9 L539.8,440.0 L543.0,438.1 L546.2,436.3 L549.4,434.4 L552.5,432.6 L555.7,430.8 L558.9,428.9 L562.1,427.1 L565.3,425.3 L568.5,423.4 L571.6,421.6 L574.8,419.8 L578.0,418.0 L581.2,416.2 L584.4,414.4 L587.6,412.7 L590.7,410.9 L593.9,409.1 L597.1,407.4 L600.3,405.7 L603.5,403.9 L606.7,402.2 L609.8,400.5 L613.0,398.8 L616.2,397.2 L619.4,395.5 L622.6,393.9 L625.8,392.2 L628.9,390.6 L632.1,389.1 L635.3,387.5 L638.5,385.9 L641.7,384.4 L644.9,382.9 L648.0,381.4 L651.2,379.9 L654.4,378.5 L657.6,377.1 L660.8,375.7 L663.9,374.3 L667.1,373.0 L670.3,371.6 L673.5,370.4 L676.7,369.1 L679.9,367.8 L683.0,366.6 L686.2,365.4 L689.4,364.3 L692.6,363.1 L695.8,362.0 L699.0,361.0 L702.1,359.9 L705.3,358.9 L708.5,357.9 L711.7,357.0 L714.9,356.0 L718.1,355.1 L721.2,354.3 L724.4,353.4 L727.6,352.6 L730.8,351.8 L734.0,351.1 L737.2,350.3 L740.3,349.7 L743.5,349.0 L746.7,348.4 L749.9,347.8 L753.1,347.2 L756.3,346.7 L759.4,346.2 L762.6,345.7 L765.8,345.3 L769.0,344.9 L772.2,344.5 L775.4,344.2 L778.5,343.9 L781.7,343.6 L784.9,343.4 L788.1,343.2 L791.3,343.0 L794.5,342.9 L797.6,342.8 L800.8,342.8 L804.0,342.8" stroke="#00aa00"/>
<path d="M485.7,471.8 L488.9,469.9 L492.1,467.9 L495.2,466.0 L498.4,464.0 L501.6,462.1 L504.8,460.2 L508.0,458.2 L511.2,456.3 L514.3,454.3 L517.5,452.4 L520.7,450.5 L523.9,448.5 L527.1,446.6 L530.3,444.7 L533.4,442.7 L536.6,440.8 L539.8,438.9 L543.0,436.9 L546.2,435.0 L549.4,433.1 L552.5,431.1 L555.7,429.2 L558.9,427.3 L562.1,425.4 L565.3,423.4 L568.5,421.5 L571.6,419.6 L574.8,417.7 L578.0,415.8 L581.2,413.9 L584.4,411.9 L587.6,410.0 L590.7,408.1 L593.9,406.2 L597.1,404.3 L600.3,402.4 L603.5,400.5 L606.7,398.6 L609.8,396.7 L613.0,394.8 L616.2,392.9 L619.4,391.0 L622.6,389.2 L625.8,387.3 L628.9,385.4 L632.1,383.5 L635.3,381.6 L638.5,379.8 L641.7,377.9 L644.9,376.0 L648.0,374.2 L651.2,372.3 L654.4,370.5 L657.6,368.6 L660.8,366.8 L663.9,365.0 L667.1,363.1 L670.3,361.3 L673.5,359.5 L676.7,357.7 L679.9,355.9 L683.0,354.1 L686.2,352.3 L689.4,350.5 L692.6,348.7 L695.8,346.9 L699.0,345.2 L702.1,343.4 L705.3,341.7 L708.5,339.9 L711.7,338.2 L714.9,336.5 L718.1,334.8 L721.2,333.1 L724.4,331.4 L727.6,329.8 L730.8,328.1 L734.0,326.5 L737.2,324.9 L740.3,323.3 L743.5,321.8 L746.7,320.2 L749.9,318.7 L753.1,317.2 L756.3,315.8 L759.4,314.4 L762.6,313.0 L765.8,311.7 L769.0,310.5 L772.2,309.3 L775.4,308.2 L778.5,307.1 L781.7,306.2 L784.9,305.3 L788.1,304.6 L791.3,304.0 L794.5,303.5 L797.6,303.1 L800.8,302.9 L804.0,302.9" stroke="#ff0000"/>
</g>
<path d="M485.70,471.8 v-2.75 M485.70,274.85 v2.75 M485.7,471.80 h2.75 M804.0,471.80 h-2.75 M498.43,471.8 v-1.8 M498.43,274.85 v1.8 M485.7,463.92 h1.8 M804.0,463.92 h-1.8 M511.16,471.8 v-1.8 M511.16,274.85 v1.8 M485.7,456.04 h1.8 M804.0,456.04 h-1.8 M523.90,471.8 v-1.8 M523.90,274.85 v1.8 M485.7,448.17 h1.8 M804.0,448.17 h-1.8 M536.63,471.8 v-1.8 M536.63,274.85 v1.8 M485.7,440.29 h1.8 M804.0,440.29 h-1.8 M549.36,471.8 v-2.75 M549.36,274.85 v2.75 M485.7,432.41 h2.75 M804.0,432.41 h-2.75 M562.09,471.8 v-1.8 M562.09,274.85 v1.8 M485.7,424.53 h1.8 M804.0,424.53 h-1.8 M574.82,471.8 v-1.8 M574.82,274.85 v1.8 M485.7,416.65 h1.8 M804.0,416.65 h-1.8 M587.56,471.8 v-1.8 M587.56,274.85 v1.8 M485.7,408.78 h1.8 M804.0,408.78 h-1.8 M600.29,471.8 v-1.8 M600.29,274.85 v1.8 M485.7,400.90 h1.8 M804.0,400.90 h-1.8 M613.02,471.8 v-2.75 M613.02,274.85 v2.75 M485.7,393.02 h2.75 M804.0,393.02 h-2.75 M625.75,471.8 v-1.8 M625.75,274.85 v1.8 M485.7,385.14 h1.8 M804.0,385.14 h-1.8 M638.48,471.8 v-1.8 M638.48,274.85 v1.8 M485.7,377.26 h1.8 M804.0,377.26 h-1.8 M651.22,471.8 v-1.8 M651.22,274.85 v1.8 M485.7,369.39 h1.8 M804.0,369.39 h-1.8 M663.95,471.8 v-1.8 M663.95,274.85 v1.8 M485.7,361.51 h1.8 M804.0,361.51 h-1.8 M676.68,471.8 v-2.75 M676.68,274.85 v2.75 M485.7,353.63 h2.75 M804.0,353.63 h-2.75 M689.41,471.8 v-1.8 M689.41,274.85 v1.8 M485.7,345.75 h1.8 M804.0,345.75 h-1.8 M702.14,471.8 v-1.8 M702.14,274.85 v1.8 M485.7,337.87 h1.8 M804.0,337.87 h-1.8 M714.88,471.8 v-1.8 M714.88,274.85 v1.8 M485.7,330.00 h1.8 M804.0,330.00 h-1.8 M727.61,471.8 v-1.8 M727.61,274.85 v1.8 M485.7,322.12 h1.8 M804.0,322.12 h-1.8 M740.34,471.8 v-2.75 M740.34,274.85 v2.75 M485.7,314.24 h2.75 M804.0,314.24 h-2.75 M753.07,471.8 v-1.8 M753.07,274.85 v1.8 M485.7,306.36 h1.8 M804.0,306.36 h-1.8 M765.80,471.8 v-1.8 M765.80,274.85 v1.8 M485.7,298.48 h1.8 M804.0,298.48 h-1.8 M778.54,471.8 v-1.8 M778.54,274.85 v1.8 M485.7,290.61 h1.8 M804.0,290.61 h-1.8 M791.27,471.8 v-1.8 M791.27,274.85 v1.8 M485.7,282.73 h1.8 M804.0,282.73 h-1.8 M804.00,471.8 v-2.75 M804.00,274.85 v2.75 M485.7,274.85 h2.75 M804.0,274.85 h-2.75" stroke="#000" stroke-width="1" fill="none"/>
<rect x="485.7" y="274.85" width="318.3" height="196.95" fill="none" stroke="#000" stroke-width="1.6"/>
<text transform="translate(475.60,487.41) scale(0.979,1)" font-family='"Liberation Sans", sans-serif' font-size="14.19" font-weight="bold" font-style="normal" fill="#000" stroke="#000" stroke-width="0.12" stroke-linejoin="round">0.0</text>
<text transform="translate(463.58,477.11) scale(1.009,1)" font-family='"Liberation Sans", sans-serif' font-size="14.19" font-weight="bold" font-style="normal" fill="#000" stroke="#000" stroke-width="0.12" stroke-linejoin="round">0.0</text>
<text transform="translate(539.27,487.41) scale(0.969,1)" font-family='"Liberation Sans", sans-serif' font-size="14.19" font-weight="bold" font-style="normal" fill="#000" stroke="#000" stroke-width="0.12" stroke-linejoin="round">0.1</text>
<text transform="translate(463.59,437.72) scale(0.999,1)" font-family='"Liberation Sans", sans-serif' font-size="14.19" font-weight="bold" font-style="normal" fill="#000" stroke="#000" stroke-width="0.12" stroke-linejoin="round">0.1</text>
<text transform="translate(602.92,487.41) scale(0.978,1)" font-family='"Liberation Sans", sans-serif' font-size="14.19" font-weight="bold" font-style="normal" fill="#000" stroke="#000" stroke-width="0.12" stroke-linejoin="round">0.2</text>
<text transform="translate(463.58,398.33) scale(1.008,1)" font-family='"Liberation Sans", sans-serif' font-size="14.19" font-weight="bold" font-style="normal" fill="#000" stroke="#000" stroke-width="0.12" stroke-linejoin="round">0.2</text>
<text transform="translate(666.58,487.39) scale(0.977,1)" font-family='"Liberation Sans", sans-serif' font-size="14.17" font-weight="bold" font-style="normal" fill="#000" stroke="#000" stroke-width="0.12" stroke-linejoin="round">0.3</text>
<text transform="translate(463.59,358.92) scale(1.007,1)" font-family='"Liberation Sans", sans-serif' font-size="14.17" font-weight="bold" font-style="normal" fill="#000" stroke="#000" stroke-width="0.12" stroke-linejoin="round">0.3</text>
<text transform="translate(730.25,487.41) scale(0.953,1)" font-family='"Liberation Sans", sans-serif' font-size="14.19" font-weight="bold" font-style="normal" fill="#000" stroke="#000" stroke-width="0.12" stroke-linejoin="round">0.4</text>
<text transform="translate(463.60,319.55) scale(0.982,1)" font-family='"Liberation Sans", sans-serif' font-size="14.19" font-weight="bold" font-style="normal" fill="#000" stroke="#000" stroke-width="0.12" stroke-linejoin="round">0.4</text>
<text transform="translate(793.91,487.41) scale(0.969,1)" font-family='"Liberation Sans", sans-serif' font-size="14.19" font-weight="bold" font-style="normal" fill="#000" stroke="#000" stroke-width="0.12" stroke-linejoin="round">0.5</text>
<text transform="translate(463.59,280.16) scale(0.999,1)" font-family='"Liberation Sans", sans-serif' font-size="14.19" font-weight="bold" font-style="normal" fill="#000" stroke="#000" stroke-width="0.12" stroke-linejoin="round">0.5</text>
<text transform="translate(489.86,292.73) scale(1.036,1)" font-family='"Liberation Sans", sans-serif' font-size="17.43" font-weight="bold" font-style="normal" fill="#000" stroke="#000" stroke-width="0.5" stroke-linejoin="round">d</text>
<path d="M501.40,281.00 C506.80,285.41 506.80,290.59 501.40,295.00" stroke="#000" stroke-width="1.15" fill="none" stroke-linecap="round"/>
<text transform="translate(536.64,357.95) scale(1.035,1)" font-family='"Liberation Sans", sans-serif' font-size="12.40" font-weight="bold" font-style="normal" fill="#000" stroke="#000" stroke-width="0.05" stroke-linejoin="round">R=2 D, a=0.5 D</text>
<path d="M587.2,432.6 H601.0" stroke="#0000ff" stroke-width="1.5"/>
<text transform="translate(602.10,436.90) scale(0.942,1)" font-family='"Liberation Sans", sans-serif' font-size="13.70" font-weight="bold" font-style="normal" fill="#0000ff" stroke="#0000ff" stroke-width="0.1" stroke-linejoin="round">h=1.0 D</text>
<path d="M669.9,432.6 H683.8" stroke="#800080" stroke-width="1.5"/>
<text transform="translate(684.10,436.90) scale(0.937,1)" font-family='"Liberation Sans", sans-serif' font-size="13.70" font-weight="bold" font-style="normal" fill="#800080" stroke="#800080" stroke-width="0.1" stroke-linejoin="round">h=0.8 D</text>
<path d="M739.9,432.6 H753.6" stroke="#aaaa00" stroke-width="1.5"/>
<text transform="translate(753.89,436.90) scale(0.950,1)" font-family='"Liberation Sans", sans-serif' font-size="13.70" font-weight="bold" font-style="normal" fill="#aaaa00" stroke="#aaaa00" stroke-width="0.1" stroke-linejoin="round">h=0.6 D</text>
<path d="M637.8,456.0 H651.6" stroke="#00aa00" stroke-width="1.5"/>
<text transform="translate(652.32,460.30) scale(0.923,1)" font-family='"Liberation Sans", sans-serif' font-size="13.70" font-weight="bold" font-style="normal" fill="#00aa00" stroke="#00aa00" stroke-width="0.1" stroke-linejoin="round">h=0.4 D</text>
<path d="M714.3,456.0 H727.9" stroke="#ff0000" stroke-width="1.5"/>
<text transform="translate(727.99,460.30) scale(0.956,1)" font-family='"Liberation Sans", sans-serif' font-size="13.70" font-weight="bold" font-style="normal" fill="#ff0000" stroke="#ff0000" stroke-width="0.1" stroke-linejoin="round">h=0.2 D</text>
<g transform="translate(0.00,265.00)">
<text transform="translate(606.23,243.60) scale(0.938,1)" font-family='"Liberation Sans", sans-serif' font-size="13.39" font-weight="bold" font-style="italic" fill="#000" stroke="#000" stroke-width="0.35" stroke-linejoin="round">k</text>
<text transform="translate(614.18,246.50) scale(0.906,1)" font-family='"Liberation Sans", sans-serif' font-size="10.79" font-weight="bold" font-style="italic" fill="#000" stroke="#000" stroke-width="0.35" stroke-linejoin="round">z</text>
<text transform="translate(635.62,243.60) scale(0.972,1)" font-family='"Liberation Sans", sans-serif' font-size="14.32" font-weight="bold" font-style="normal" fill="#000" stroke="#000" stroke-width="0.35" stroke-linejoin="round">2</text>
<text transform="translate(657.48,243.75) scale(0.871,1)" font-family='"Liberation Sans", sans-serif' font-size="14.61" font-weight="bold" font-style="italic" fill="#000" stroke="#000" stroke-width="0.35" stroke-linejoin="round">D</text>
<text transform="translate(673.50,236.90) scale(0.882,1)" font-family='"Liberation Sans", sans-serif' font-size="9.01" font-weight="bold" font-style="normal" fill="#000" stroke="#000" stroke-width="0.35" stroke-linejoin="round">1</text>
<g transform="translate(645.3,243.7) skewX(-14) scale(1.08,1)"><text x="0" y="0" font-family='"Liberation Serif", serif' font-size="12.8" fill="#000" stroke="#000" stroke-width="0.4">π</text></g>
<path d="M622.0,248.7 L627.8,231.2" stroke="#000" stroke-width="1.45" fill="none"/>
<path d="M634.4,231.1 C631.0,236.0 631.0,244.3 634.4,249.1" stroke="#000" stroke-width="1.25" fill="none"/>
<path d="M680.2,231.1 C683.6,236.0 683.6,244.3 680.2,249.1" stroke="#000" stroke-width="1.25" fill="none"/>
<path d="M668.1,234.45 H672.7" stroke="#000" stroke-width="1.0" fill="none"/>
</g>
<g transform="rotate(-90)">
<text transform="translate(-385.88,457.20) scale(0.872,1)" font-family='"Liberation Sans", sans-serif' font-size="14.10" font-weight="bold" font-style="italic" fill="#000" stroke="#000" stroke-width="0.3" stroke-linejoin="round">D</text>
<text transform="translate(-366.86,457.60) scale(1.025,1)" font-family='"Liberation Serif", serif' font-size="13.35" font-weight="normal" font-style="normal" fill="#000" stroke="#000" stroke-width="0.25" stroke-linejoin="round">λ</text>
</g>
<path d="M459.65,374.40 L448.45,369.80" stroke="#000" stroke-width="1.35" fill="none"/>
</svg>
</body></html>
